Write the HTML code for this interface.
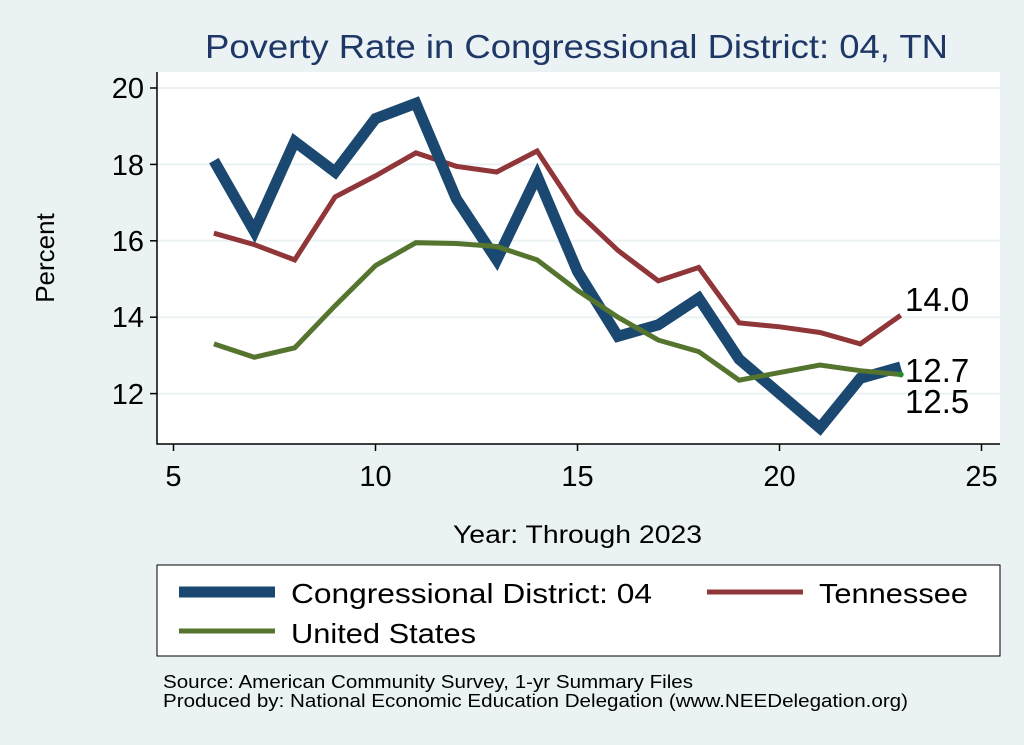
<!DOCTYPE html>
<html><head><style>
body{margin:0;background:#eaf2f3;}
svg{display:block;font-family:"Liberation Sans",Arial,sans-serif;}
</style></head><body>
<svg width="1024" height="745" xmlns="http://www.w3.org/2000/svg" id="s" xml:space="preserve">
<rect width="1024" height="745" fill="#eaf2f3"/>
<text x="205" y="58" font-size="33" fill="#1e3766" textLength="743" lengthAdjust="spacingAndGlyphs">Poverty Rate in Congressional District:  04, TN</text>
<rect x="157" y="72" width="843" height="372" fill="#fff"/>
<g stroke="#eaf2f3" stroke-width="2">
<line x1="157" x2="1000" y1="88" y2="88"/><line x1="157" x2="1000" y1="164.4" y2="164.4"/>
<line x1="157" x2="1000" y1="240.8" y2="240.8"/><line x1="157" x2="1000" y1="317.2" y2="317.2"/>
<line x1="157" x2="1000" y1="393.6" y2="393.6"/>
</g>
<g stroke="#000" stroke-width="1.5" fill="none">
<polyline points="157,72 157,444 1000,444"/>
<line x1="150" x2="157" y1="88" y2="88"/><line x1="150" x2="157" y1="164.4" y2="164.4"/>
<line x1="150" x2="157" y1="240.8" y2="240.8"/><line x1="150" x2="157" y1="317.2" y2="317.2"/>
<line x1="150" x2="157" y1="393.6" y2="393.6"/>
<line x1="173.5" x2="173.5" y1="444" y2="451"/><line x1="375.5" x2="375.5" y1="444" y2="451"/>
<line x1="577.5" x2="577.5" y1="444" y2="451"/><line x1="779.5" x2="779.5" y1="444" y2="451"/>
<line x1="981.5" x2="981.5" y1="444" y2="451"/>
</g>
<g font-size="29" fill="#000" text-anchor="end">
<text x="144" y="98">20</text><text x="144" y="175">18</text><text x="144" y="251">16</text>
<text x="144" y="327">14</text><text x="144" y="404">12</text>
</g>
<g font-size="29" fill="#000" text-anchor="middle">
<text x="173.5" y="486">5</text><text x="375.5" y="486">10</text><text x="577.5" y="486">15</text>
<text x="779.5" y="486">20</text><text x="981.5" y="486">25</text>
</g>
<text x="453" y="543" font-size="25" textLength="249" lengthAdjust="spacingAndGlyphs">Year: Through 2023</text>
<text transform="translate(54,258) rotate(-90)" font-size="26" text-anchor="middle">Percent</text>
<g fill="none" stroke-linejoin="miter" id="lines"></g>
<g font-size="33" fill="#000">
<text x="905" y="311">14.0</text><text x="905" y="382">12.7</text><text x="905" y="413">12.5</text>
</g>
<rect x="157" y="565" width="843" height="91" fill="#fff" stroke="#000" stroke-width="1"/>
<line x1="179" x2="275" y1="592" y2="592" stroke="#1a4870" stroke-width="11"/>
<text x="291" y="603" font-size="28" textLength="361" lengthAdjust="spacingAndGlyphs">Congressional District:  04</text>
<line x1="707" x2="803" y1="592" y2="592" stroke="#903538" stroke-width="5"/>
<text x="819" y="603" font-size="28" textLength="149" lengthAdjust="spacingAndGlyphs">Tennessee</text>
<line x1="179" x2="275" y1="631" y2="631" stroke="#55752f" stroke-width="5"/>
<text x="291" y="643" font-size="28" textLength="185" lengthAdjust="spacingAndGlyphs">United States</text>
<text x="163" y="688" font-size="18" textLength="530" lengthAdjust="spacingAndGlyphs">Source: American Community Survey, 1-yr Summary Files</text>
<text x="163" y="707" font-size="18" textLength="745" lengthAdjust="spacingAndGlyphs">Produced by: National Economic Education Delegation (www.NEEDelegation.org)</text>
</svg>
<script>
var X=function(y){return 173.5+(y-5)*40.4},Y=function(v){return 88+(20-v)*38.2};
var cd=[18.1,16.25,18.6,17.8,19.2,19.6,17.1,15.5,17.7,15.2,13.5,13.8,14.5,12.9,12.0,11.1,12.4,12.7];
var tn=[16.2,15.9,15.5,17.15,17.7,18.3,17.95,17.8,18.35,16.75,15.75,14.95,15.3,13.85,13.75,13.6,13.3,14.05];
var us=[13.3,12.95,13.2,14.3,15.35,15.95,15.93,15.85,15.5,14.7,14.0,13.4,13.1,12.35,12.55,12.75,12.6,12.5];
function pl(d,c,w){var p=d.map(function(v,i){return X(i+6).toFixed(1)+","+Y(v).toFixed(1)}).join(" ");
return '<polyline points="'+p+'" stroke="'+c+'" stroke-width="'+w+'"/>';}
document.getElementById("lines").innerHTML=pl(tn,"#903538",5)+pl(cd,"#1a4870",11)+pl(us,"#55752f",5)+'<circle cx="'+X(23)+'" cy="'+Y(12.5)+'" r="3" fill="#2a8a2a"/>';
</script>
</body></html>
